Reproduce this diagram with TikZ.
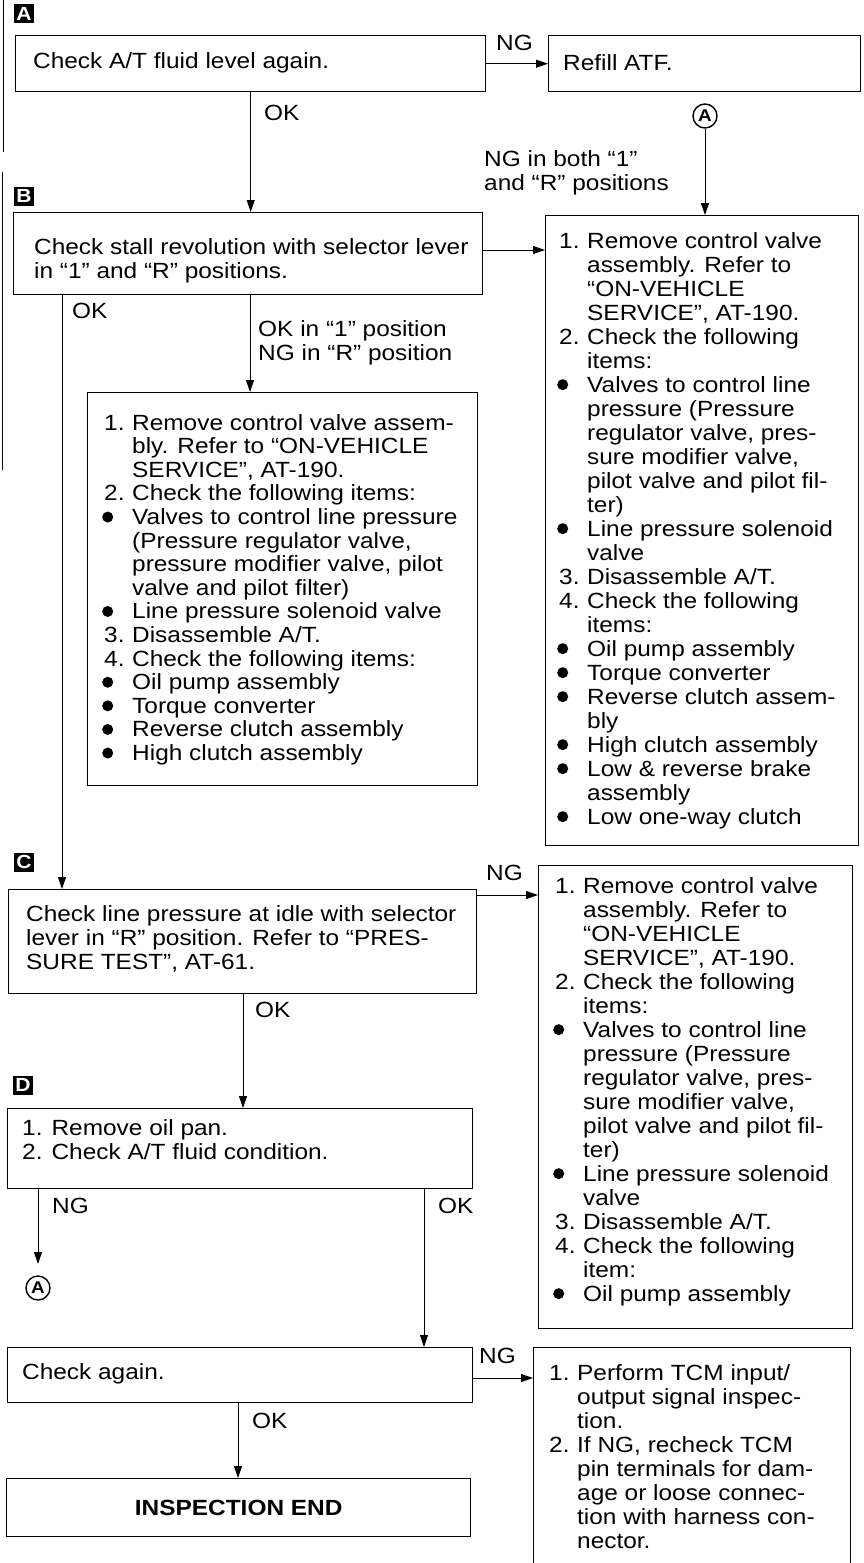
\documentclass[tikz,border=0pt]{standalone}
\usepackage{fontspec}
\setmainfont{Liberation Sans}[FakeStretch=1.11]
\usetikzlibrary{arrows.meta}
\newcommand{\fnum}[1]{\makebox[28pt][l]{#1}}
\newcommand{\fbul}{\hspace*{-2pt}\makebox[30pt][l]{\tikz[baseline=0pt,x=1pt,y=1pt]\fill (5.5,7.5) circle (5.5pt);}}
\newcommand{\fnin}{\hspace*{28pt}}
\newcommand{\fbin}{\hspace*{28pt}}
\begin{document}
\begin{tikzpicture}[x=1pt,y=-1pt,
  box/.style={draw, line width=1.4pt, anchor=north west, inner sep=0pt},
  txt/.style={anchor=north west, align=left, inner sep=0pt, font=\fontsize{22}{24}\selectfont},
  lbl/.style={inner sep=0pt, align=left, font=\fontsize{22}{24}\selectfont},
  arr/.style={line width=1pt, -{Triangle[length=12pt,width=8pt]}},
  tag/.style={fill=black, text=white, minimum width=20pt, minimum height=19pt, inner sep=0pt, font=\fontsize{19}{19}\selectfont\bfseries},
  circ/.style={circle, draw, line width=1.4pt, minimum size=24pt, inner sep=0pt, font=\fontsize{17}{17}\selectfont\bfseries}
]
\useasboundingbox (0,0) rectangle (864,1563);

% margin marks
\draw[line width=1pt] (3,0) -- (3,152);
\draw[line width=1pt] (2,172) -- (2,470);

% ---------- A ----------
\node[tag] (tA) at (24,14) {A};
\node[box, minimum width=470pt, minimum height=56pt] (a1) at (15,35) {};
\node[lbl, anchor=west] (a1t) at (33,63) {Check A/T fluid level again.};
\node[box, minimum width=312pt, minimum height=56pt] (refill) at (548,35) {};
\node[lbl, anchor=west] (refillt) at (563,63) {Refill ATF.};
\draw[arr] (a1.east) -- (refill.west);
\node[lbl, anchor=base west] (ngA) at (496,51) {NG};
\node[lbl, anchor=base west] (okA) at (264,120) {OK};
\node[circ] (cA1) at (705,116) {A};
\node[lbl, anchor=north west] (ngboth) at (484,150) {NG in both “1”\\and “R” positions};

% ---------- B ----------
\node[tag] (tB) at (24,196) {B};
\node[box, minimum width=469pt, minimum height=82pt] (b1) at (13,212) {};
\node[txt] (b1t) at (34,238) {Check stall revolution with selector lever\\in “1” and “R” positions.};
\node[box, minimum width=313pt, minimum height=630pt] (r1) at (545,215) {};
\node[txt] (r1t) at (559,232) {%
\fnum{1.}Remove control valve\\
\fnin assembly. Refer to\\
\fnin “ON-VEHICLE\\
\fnin SERVICE”, AT-190.\\
\fnum{2.}Check the following\\
\fnin items:\\
\fbul Valves to control line\\
\fbin pressure (Pressure\\
\fbin regulator valve, pres-\\
\fbin sure modifier valve,\\
\fbin pilot valve and pilot fil-\\
\fbin ter)\\
\fbul Line pressure solenoid\\
\fbin valve\\
\fnum{3.}Disassemble A/T.\\
\fnum{4.}Check the following\\
\fnin items:\\
\fbul Oil pump assembly\\
\fbul Torque converter\\
\fbul Reverse clutch assem-\\
\fbin bly\\
\fbul High clutch assembly\\
\fbul Low \& reverse brake\\
\fbin assembly\\
\fbul Low one-way clutch};
\draw[arr] (cA1.south) -- (cA1.south |- r1.north);
\draw[arr] (a1.south) -- (a1.south |- b1.north);
\coordinate (yB) at (0,250);
\draw[arr] (b1.east |- yB) -- (r1.west |- yB);

\node[box, minimum width=390pt, minimum height=393pt] (b2) at (87,392) {};
\node[txt, font=\fontsize{22}{23.6}\selectfont] (b2t) at (104,414) {%
\fnum{1.}Remove control valve assem-\\
\fnin bly. Refer to “ON-VEHICLE\\
\fnin SERVICE”, AT-190.\\
\fnum{2.}Check the following items:\\
\fbul Valves to control line pressure\\
\fbin (Pressure regulator valve,\\
\fbin pressure modifier valve, pilot\\
\fbin valve and pilot filter)\\
\fbul Line pressure solenoid valve\\
\fnum{3.}Disassemble A/T.\\
\fnum{4.}Check the following items:\\
\fbul Oil pump assembly\\
\fbul Torque converter\\
\fbul Reverse clutch assembly\\
\fbul High clutch assembly};
\coordinate (x250) at (250,0);
\draw[arr] (b1.south -| x250) -- (b2.north -| x250);
\node[lbl, anchor=north west] (okng) at (258,320) {OK in “1” position\\NG in “R” position};
\node[lbl, anchor=base west] (okB) at (72,318) {OK};

% ---------- C ----------
\node[tag] (tC) at (24,862) {C};
\node[box, minimum width=468pt, minimum height=104pt] (c1) at (8,889) {};
\node[txt] (c1t) at (26,905) {Check line pressure at idle with selector\\lever in “R” position. Refer to “PRES-\\SURE TEST”, AT-61.};
\coordinate (x62) at (62,0);
\draw[arr] (b1.south -| x62) -- (c1.north -| x62);
\node[box, minimum width=314pt, minimum height=463pt] (r2) at (538,865) {};
\node[txt] (r2t) at (555,877) {%
\fnum{1.}Remove control valve\\
\fnin assembly. Refer to\\
\fnin “ON-VEHICLE\\
\fnin SERVICE”, AT-190.\\
\fnum{2.}Check the following\\
\fnin items:\\
\fbul Valves to control line\\
\fbin pressure (Pressure\\
\fbin regulator valve, pres-\\
\fbin sure modifier valve,\\
\fbin pilot valve and pilot fil-\\
\fbin ter)\\
\fbul Line pressure solenoid\\
\fbin valve\\
\fnum{3.}Disassemble A/T.\\
\fnum{4.}Check the following\\
\fnin item:\\
\fbul Oil pump assembly};
\coordinate (yC) at (0,895);
\draw[arr] (c1.east |- yC) -- (r2.west |- yC);
\node[lbl, anchor=base west] (ngC) at (486,880) {NG};

% ---------- D ----------
\node[tag] (tD) at (23,1085) {D};
\node[box, minimum width=465pt, minimum height=80pt] (d1) at (7,1108) {};
\node[txt] (d1t) at (22,1119) {1. Remove oil pan.\\2. Check A/T fluid condition.};
\coordinate (x243) at (243,0);
\draw[arr] (c1.south -| x243) -- (d1.north -| x243);
\node[lbl, anchor=base west] (okC) at (255,1017) {OK};

\node[circ] (cA2) at (38,1288) {A};
\coordinate (ngend) at (38,1264);
\coordinate (x38) at (38,0);
\draw[arr] (d1.south -| x38) -- (ngend);
\node[lbl, anchor=base west] (ngD) at (52,1213) {NG};

\node[box, minimum width=465pt, minimum height=55pt] (chk) at (7,1347) {};
\node[lbl, anchor=west] (chkt) at (22,1374) {Check again.};
\coordinate (x424) at (424,0);
\draw[arr] (d1.south -| x424) -- (chk.north -| x424);
\node[lbl, anchor=base west] (okD) at (438,1213) {OK};

\node[box, minimum width=317pt, minimum height=240pt] (r3) at (533,1347) {};
\node[txt] (r3t) at (549,1364) {%
\fnum{1.}Perform TCM input/\\
\fnin output signal inspec-\\
\fnin tion.\\
\fnum{2.}If NG, recheck TCM\\
\fnin pin terminals for dam-\\
\fnin age or loose connec-\\
\fnin tion with harness con-\\
\fnin nector.};
\coordinate (yR3) at (0,1378);
\draw[arr] (chk.east |- yR3) -- (r3.west |- yR3);
\node[lbl, anchor=base west] (ngE) at (479,1363) {NG};

\node[box, minimum width=464pt, minimum height=58pt] (endb) at (6,1478) {};
\node[lbl, font=\fontsize{22}{24}\selectfont\bfseries] (endt) at (endb.center) {INSPECTION END};
\coordinate (x238) at (238,0);
\draw[arr] (chk.south -| x238) -- (endb.north -| x238);
\node[lbl, anchor=base west] (okE) at (252,1428) {OK};
\end{tikzpicture}
\end{document}
